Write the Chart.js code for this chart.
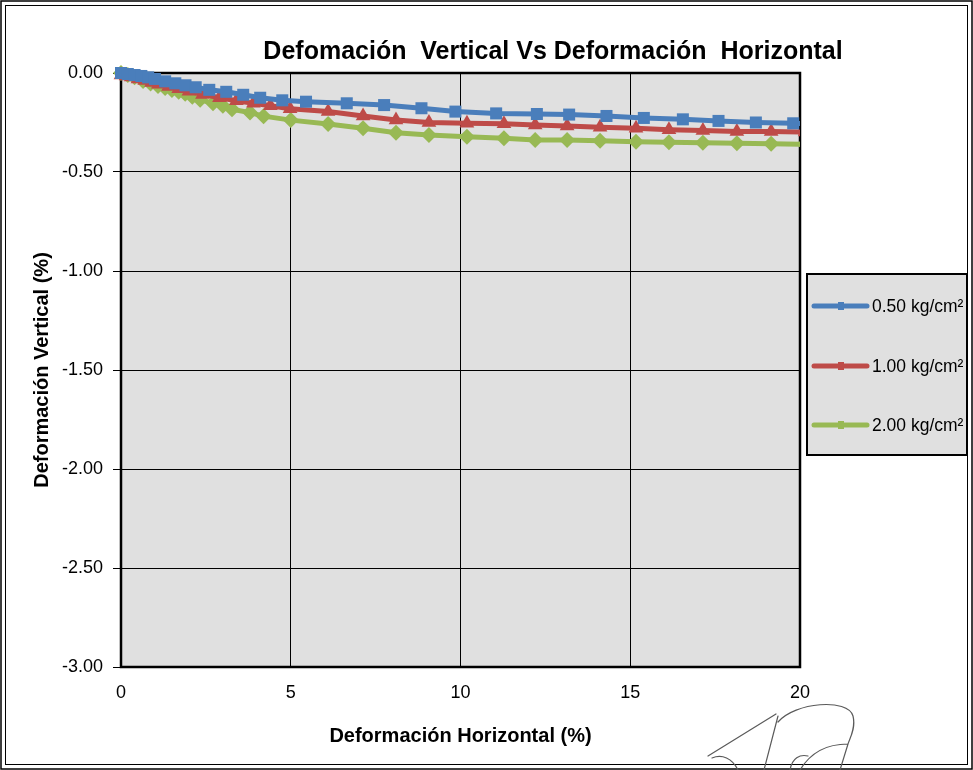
<!DOCTYPE html>
<html>
<head>
<meta charset="utf-8">
<script src="https://cdn.jsdelivr.net/npm/chart.js@4/dist/chart.umd.min.js"></script>
<style>
  html, body { margin: 0; padding: 0; background: #fff; }
  #wrap { position: relative; width: 973px; height: 770px; }
</style>
</head>
<body>
<div id="wrap"><canvas id="c"></canvas></div>
<script>
// Direct shear test: vertical vs horizontal deformation for three normal loads
const chartTitle = 'Defomación  Vertical Vs Deformación  Horizontal';
const xTitle = 'Deformación Horizontal (%)';
const yTitle = 'Deformación Vertical (%)';
const seriesLabels = ['0.50 kg/cm²', '1.00 kg/cm²', '2.00 kg/cm²'];

const xTicks = [0, 5, 10, 15, 20];
const yTicks = [0, -0.5, -1, -1.5, -2, -2.5, -3];

// 0.50 kg/cm²
const hor050 = [0, 0.2, 0.4, 0.6, 0.8, 1.0, 1.3, 1.6, 1.9, 2.2, 2.6, 3.1, 3.6, 4.1, 4.75,
                5.45, 6.65, 7.75, 8.85, 9.85, 11.05, 12.25, 13.2, 14.3, 15.4, 16.55, 17.6, 18.7, 19.8, 20.9];
const ver050 = [0, -0.005, -0.01, -0.015, -0.022, -0.03, -0.042, -0.052, -0.062, -0.072, -0.085, -0.095, -0.11, -0.125, -0.138,
                -0.145, -0.153, -0.162, -0.178, -0.195, -0.204, -0.207, -0.21, -0.217, -0.227, -0.234, -0.242, -0.25, -0.254, -0.258];

// 1.00 kg/cm²
const hor100 = [0, 0.15, 0.3, 0.5, 0.7, 0.9, 1.1, 1.4, 1.7, 2.0, 2.4, 2.9, 3.4, 3.9, 4.4,
                4.98, 6.1, 7.13, 8.1, 9.07, 10.19, 11.28, 12.2, 13.14, 14.11, 15.17, 16.14, 17.14, 18.14, 19.15, 20.15];
const ver100 = [-0.01, -0.015, -0.02, -0.03, -0.038, -0.048, -0.057, -0.068, -0.08, -0.092, -0.108, -0.125, -0.14, -0.153, -0.165,
                -0.18, -0.195, -0.217, -0.237, -0.25, -0.254, -0.256, -0.263, -0.268, -0.274, -0.279, -0.286, -0.29, -0.295, -0.296, -0.298];

// 2.00 kg/cm²
const hor200 = [0, 0.2, 0.4, 0.65, 0.87, 1.09, 1.3, 1.5, 1.7, 1.89, 2.1, 2.33, 2.71, 3.0, 3.27, 3.8, 4.2,
                5.0, 6.1, 7.13, 8.1, 9.07, 10.19, 11.28, 12.2, 13.14, 14.11, 15.17, 16.14, 17.14, 18.14, 19.15, 20.15];
const ver200 = [0, -0.01, -0.022, -0.04, -0.053, -0.066, -0.076, -0.086, -0.095, -0.105, -0.12, -0.135, -0.153, -0.165, -0.183, -0.2, -0.218,
                -0.238, -0.258, -0.279, -0.302, -0.313, -0.322, -0.33, -0.338, -0.338, -0.342, -0.347, -0.35, -0.352, -0.355, -0.357, -0.36];

const colors = ['#4a7ebb', '#be4b48', '#98b954'];
const markers = ['rect', 'triangle', 'rectRot'];
const markerSizes = [8.5, 8.5, 8];

const toPoints = (xs, ys) => xs.map((x, i) => ({ x: x, y: ys[i] }));
const seriesData = [toPoints(hor050, ver050), toPoints(hor100, ver100), toPoints(hor200, ver200)];

const FONT = '"Liberation Sans", Arial, Helvetica, sans-serif';

// plot area fill, frame around the page, title, plot border, legend and signature
const decorations = {
  id: 'decorations',
  beforeDraw(chart) {
    const { ctx, chartArea: a } = chart;
    ctx.save();
    ctx.fillStyle = '#ffffff';
    ctx.fillRect(0, 0, chart.width, chart.height);
    ctx.fillStyle = '#e0e0e0';
    ctx.fillRect(a.left, a.top, a.right - a.left, a.bottom - a.top);
    ctx.restore();
  },
  beforeDatasetsDraw(chart) {
    const { ctx, chartArea: a } = chart;
    ctx.save();
    ctx.strokeStyle = '#000';
    ctx.lineWidth = 2.5;
    ctx.strokeRect(a.left, a.top, a.right - a.left, a.bottom - a.top);
    ctx.restore();
  },
  afterDraw(chart) {
    const { ctx } = chart;
    ctx.save();
    // page frame
    ctx.strokeStyle = '#000';
    ctx.lineWidth = 1.5;
    ctx.strokeRect(1, 1, chart.width - 2, chart.height - 2);
    ctx.lineWidth = 1;
    ctx.strokeRect(5.5, 5.5, chart.width - 11, chart.height - 11);

    // title
    ctx.fillStyle = '#000';
    ctx.font = 'bold 25px ' + FONT;
    ctx.textAlign = 'center';
    ctx.textBaseline = 'middle';
    ctx.fillText(chartTitle, 553, 52);

    // legend
    const lx = 807, ly = 274, lw = 160, lh = 181;
    ctx.fillStyle = '#e0e0e0';
    ctx.fillRect(lx, ly, lw, lh);
    ctx.strokeStyle = '#000';
    ctx.lineWidth = 2;
    ctx.strokeRect(lx, ly, lw, lh);
    const rows = [306, 366, 425];
    chart.data.datasets.forEach((ds, i) => {
      const y = rows[i];
      ctx.strokeStyle = ds.borderColor;
      ctx.lineWidth = 5;
      ctx.lineCap = 'round';
      ctx.beginPath();
      ctx.moveTo(814, y);
      ctx.lineTo(867, y);
      ctx.stroke();
      ctx.fillStyle = ds.borderColor;
      ctx.fillRect(838, y - 4, 6, 8);
      ctx.fillStyle = '#000';
      ctx.font = '17.5px ' + FONT;
      ctx.textAlign = 'left';
      ctx.textBaseline = 'middle';
      ctx.fillText(ds.label, 872, y + 1);
    });

    // signature
    ctx.strokeStyle = '#5a5a5a';
    ctx.lineWidth = 1.2;
    ctx.lineCap = 'round';
    ctx.beginPath();
    ctx.moveTo(778, 722);
    ctx.bezierCurveTo(795, 702, 848, 698, 853, 716);
    ctx.bezierCurveTo(856, 728, 850, 738, 848, 744);
    ctx.moveTo(848, 744);
    ctx.bezierCurveTo(830, 744, 812, 750, 800, 770);
    ctx.moveTo(776, 714);
    ctx.lineTo(708, 756);
    ctx.moveTo(778, 716);
    ctx.lineTo(764, 770);
    ctx.moveTo(712, 758);
    ctx.bezierCurveTo(722, 754, 732, 758, 738, 770);
    ctx.moveTo(848, 744);
    ctx.lineTo(840, 770);
    ctx.moveTo(790, 770);
    ctx.bezierCurveTo(792, 758, 800, 754, 808, 756);
    ctx.stroke();
    ctx.restore();
  }
};

new Chart(document.getElementById('c'), {
  type: 'scatter',
  data: {
    datasets: seriesData.map((pts, i) => ({
      label: seriesLabels[i],
      data: pts,
      showLine: true,
      borderColor: colors[i],
      backgroundColor: colors[i],
      borderWidth: 5,
      tension: 0,
      pointStyle: markers[i],
      pointRadius: markerSizes[i],
      pointBorderWidth: 0,
      pointHoverRadius: markerSizes[i],
      clip: { left: 12, top: 12, right: 0, bottom: 12 }
    }))
  },
  options: {
    responsive: true,
    maintainAspectRatio: false,
    animation: false,
    events: [],
    layout: { padding: { left: 28, right: 173, top: 73, bottom: 20 } },
    plugins: {
      legend: { display: false },
      title: { display: false },
      tooltip: { enabled: false }
    },
    scales: {
      x: {
        type: 'linear',
        min: 0, max: 20,
        afterBuildTicks(scale) { scale.ticks = xTicks.map(v => ({ value: v })); },
        afterFit(scale) { scale.height = 83; },
        ticks: {
          color: '#000',
          padding: 15,
          font: { family: FONT, size: 18 },
          callback: v => String(v)
        },
        grid: { color: '#000', lineWidth: 1, drawTicks: false },
        border: { display: false },
        title: {
          display: true,
          text: xTitle,
          color: '#000',
          padding: { top: 4, bottom: 2 },
          font: { family: FONT, size: 20, weight: 'bold' }
        }
      },
      y: {
        type: 'linear',
        min: -3, max: 0,
        afterBuildTicks(scale) { scale.ticks = yTicks.map(v => ({ value: v })); },
        afterFit(scale) { scale.width = 93; },
        ticks: {
          color: '#000',
          padding: 10,
          font: { family: FONT, size: 18 },
          callback: v => v.toFixed(2)
        },
        grid: { color: '#000', lineWidth: 1, tickLength: 8 },
        border: { display: false },
        title: {
          display: true,
          text: yTitle,
          color: '#000',
          padding: { top: 2, bottom: 2 },
          font: { family: FONT, size: 20, weight: 'bold' }
        }
      }
    }
  },
  plugins: [decorations]
});
</script>
</body>
</html>
